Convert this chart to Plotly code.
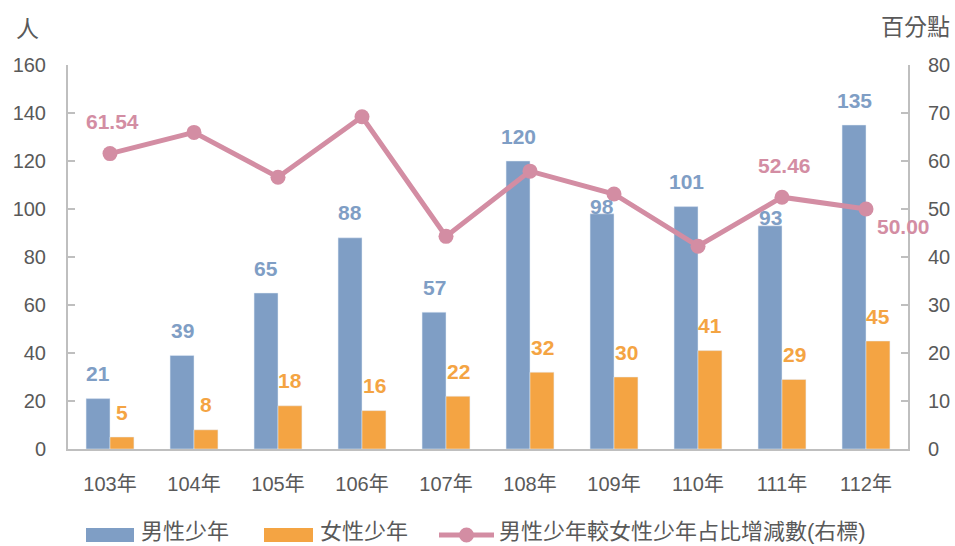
import plotly.graph_objects as go

categories = ["103年", "104年", "105年", "106年", "107年", "108年", "109年", "110年", "111年", "112年"]
male = [21, 39, 65, 88, 57, 120, 98, 101, 93, 135]
female = [5, 8, 18, 16, 22, 32, 30, 41, 29, 45]
diff = [61.54, 65.96, 56.63, 69.23, 44.30, 57.89, 53.13, 42.25, 52.46, 50.00]
left_ticks = [0, 20, 40, 60, 80, 100, 120, 140, 160]
right_ticks = [0, 10, 20, 30, 40, 50, 60, 70, 80]

name_male = "男性少年"
name_female = "女性少年"
name_diff = "男性少年較女性少年占比增減數(右標)"

BLUE = "#7F9EC5"
ORANGE = "#F4A443"
PINK = "#D38DA3"
GRAY_TXT = "#595959"
AXIS = "#BFBFBF"
FONT = "Liberation Sans, Arial, Noto Sans CJK TC, sans-serif"

# plot area in pixels
L, R, T, B = 68, 908, 65, 449
W, H = R - L, B - T
def px(x):
    return (x - L) / W
def py(y):
    return (B - y) / H

fig = go.Figure()
fig.add_trace(go.Bar(x=categories, y=male, name=name_male, marker_color=BLUE,
                     showlegend=False))
fig.add_trace(go.Bar(x=categories, y=female, name=name_female, marker_color=ORANGE,
                     showlegend=False))
fig.add_trace(go.Scatter(x=categories, y=diff, name=name_diff, yaxis="y2",
                         mode="lines+markers",
                         line=dict(color=PINK, width=5),
                         marker=dict(color=PINK, size=15),
                         showlegend=False))

annotations = []
# male labels (offsets are style)
male_yshift = [25, 25, 25, 25, 25, 25, 7, 25, 8, 25]
for c, v, s in zip(categories, male, male_yshift):
    annotations.append(dict(x=c, y=v, xref="x", yref="y", text=str(v), showarrow=False,
                            xshift=-12, yshift=s,
                            font=dict(family=FONT, size=21, color=BLUE, weight="bold")))
for c, v in zip(categories, female):
    annotations.append(dict(x=c, y=v, xref="x", yref="y", text=str(v), showarrow=False,
                            xshift=12, yshift=25,
                            font=dict(family=FONT, size=21, color=ORANGE, weight="bold")))
# line labels at selected points
line_label_idx = {0: (2, 32), 8: (2, 32), 9: (37, -17)}
for i, (xs, ys) in line_label_idx.items():
    annotations.append(dict(x=categories[i], y=diff[i], xref="x", yref="y2",
                            text=f"{diff[i]:.2f}", showarrow=False, xshift=xs, yshift=ys,
                            font=dict(family=FONT, size=21, color=PINK, weight="bold")))

# axis titles
annotations.append(dict(x=px(27), y=py(29), xref="paper", yref="paper", text="人",
                        showarrow=False, xanchor="center", yanchor="middle",
                        font=dict(family=FONT, size=23, color=GRAY_TXT)))
annotations.append(dict(x=px(915), y=py(27), xref="paper", yref="paper", text="百分點",
                        showarrow=False, xanchor="center", yanchor="middle",
                        font=dict(family=FONT, size=23, color=GRAY_TXT)))

# custom legend
shapes = []
ly = 535
shapes.append(dict(type="rect", xref="paper", yref="paper", x0=px(86), x1=px(134),
                   y0=py(ly + 7), y1=py(ly - 7), fillcolor=BLUE, line=dict(width=0)))
shapes.append(dict(type="rect", xref="paper", yref="paper", x0=px(264), x1=px(313),
                   y0=py(ly + 7), y1=py(ly - 7), fillcolor=ORANGE, line=dict(width=0)))
shapes.append(dict(type="line", xref="paper", yref="paper", x0=px(439), x1=px(494),
                   y0=py(ly), y1=py(ly), line=dict(color=PINK, width=5)))
shapes.append(dict(type="circle", xref="paper", yref="paper", x0=px(459), x1=px(474),
                   y0=py(ly + 7.5), y1=py(ly - 7.5), fillcolor=PINK, line=dict(width=0)))
for x0, t in [(139, name_male), (318, name_female), (497, name_diff)]:
    annotations.append(dict(x=px(x0), y=py(531), xref="paper", yref="paper", text=t,
                            showarrow=False, xanchor="left", yanchor="middle",
                            font=dict(family=FONT, size=22, color=GRAY_TXT)))

fig.update_layout(
    width=955, height=546,
    margin=dict(l=L, r=955 - R, t=T, b=546 - B, autoexpand=False),
    paper_bgcolor="white", plot_bgcolor="white",
    barmode="group", bargap=0.43, bargroupgap=0,
    font=dict(family=FONT, size=20, color=GRAY_TXT),
    xaxis=dict(range=[-0.5, len(categories) - 0.5], showline=True, linecolor=AXIS,
               linewidth=2, ticks="",
               tickfont=dict(size=20, color=GRAY_TXT), ticklabelstandoff=16,
               showgrid=False, zeroline=False, automargin=False),
    yaxis=dict(range=[0, 160], tickvals=left_ticks, showline=True, linecolor=AXIS,
               linewidth=2, ticks="inside", ticklen=7, tickcolor=AXIS, tickwidth=2,
               showgrid=False, zeroline=False, ticklabelstandoff=16, automargin=False,
               tickfont=dict(size=20, color=GRAY_TXT)),
    yaxis2=dict(range=[0, 80], tickvals=right_ticks, overlaying="y", side="right",
                showline=True, linecolor=AXIS, linewidth=2, ticks="inside", ticklen=7,
                tickcolor=AXIS, tickwidth=2, showgrid=False, zeroline=False,
                automargin=False,
                ticklabelstandoff=14, tickfont=dict(size=20, color=GRAY_TXT)),
    showlegend=False,
    annotations=annotations,
    shapes=shapes,
)

fig.write_html("out.html", config={"displayModeBar": False},
               post_script="document.body.style.margin='0px';")
